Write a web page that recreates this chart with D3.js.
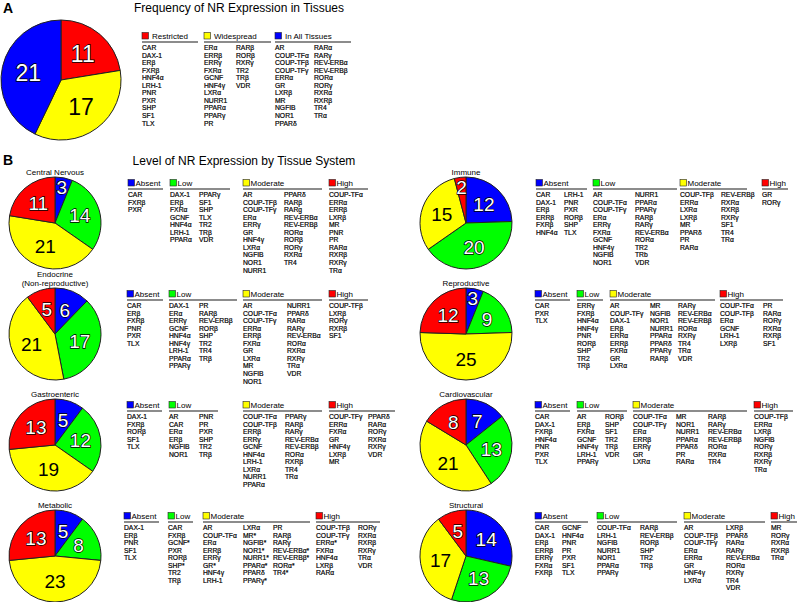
<!DOCTYPE html>
<html>
<head>
<meta charset="utf-8">
<script src="https://cdn.jsdelivr.net/npm/d3@7"></script>
<style>
  body { margin: 0; background: #fff; }
  text { font-family: "Liberation Sans", Arial, Helvetica, sans-serif; }
</style>
</head>
<body>
<svg id="fig" width="800" height="602"></svg>
<script>
// ---- categories ----
const freqCats = ["Restricted", "Widespread", "In All Tissues"];
const levels = ["Absent", "Low", "Moderate", "High"];

// ---- panel A: receptors per frequency class (one inner array per printed column) ----
const restricted = [["CAR", "DAX-1", "ERβ", "FXRβ", "HNF4α", "LRH-1", "PNR", "PXR", "SHP", "SF1", "TLX"]];
const widespread = [
  ["ERα", "ERRβ", "ERRγ", "FXRα", "GCNF", "HNF4γ", "LXRα", "NURR1", "PPARα", "PPARγ", "PR"],
  ["RARβ", "RORβ", "RXRγ", "TR2", "TRβ", "VDR"]
];
const allTissues = [
  ["AR", "COUP-TFα", "COUP-TFβ", "COUP-TFγ", "ERRα", "GR", "LXRβ", "MR", "NGFIB", "NOR1", "PPARδ"],
  ["RARα", "RARγ", "REV-ERBα", "REV-ERBβ", "RORα", "RORγ", "RXRα", "RXRβ", "TR4", "TRα"]
];

// ---- panel B: tissue systems, lists in order Absent, Low, Moderate, High ----
const tissueNames = ["Central Nervous", "Immune", "Endocrine\n(Non-reproductive)", "Reproductive",
                     "Gastroenteric", "Cardiovascular", "Metabolic", "Structural"];

const centralNervous = [
  [["CAR", "FXRβ", "PXR"]],
  [["DAX-1", "ERβ", "FXRα", "GCNF", "HNF4α", "LRH-1", "PPARα"], ["PPARγ", "SF1", "SHP", "TLX", "TR2", "TRβ", "VDR"]],
  [["AR", "COUP-TFβ", "COUP-TFγ", "ERα", "ERRγ", "GR", "HNF4γ", "LXRα", "NGFIB", "NOR1", "NURR1"],
   ["PPARδ", "RARβ", "RARg", "REV-ERBα", "REV-ERBβ", "RORα", "RORβ", "RORγ", "RXRα", "TR4"]],
  [["COUP-TFα", "ERRα", "ERRβ", "LXRβ", "MR", "PNR", "PR", "RARα", "RXRβ", "RXRγ", "TRα"]]
];
const immune = [
  [["CAR", "DAX-1", "ERβ", "ERRβ", "FXRβ", "HNF4α"], ["LRH-1", "PNR", "PXR", "RORβ", "SHP", "TLX"]],
  [["AR", "COUP-TFα", "COUP-TFγ", "ERα", "ERRγ", "FXRα", "GCNF", "HNF4γ", "NGFIB", "NOR1"],
   ["NURR1", "PPARα", "PPARγ", "RARβ", "RARγ", "REV-ERBα", "RORα", "TR2", "TRb", "VDR"]],
  [["COUP-TFβ", "ERRα", "LXRα", "LXRβ", "MR", "PPARδ", "PR", "RARα"],
   ["REV-ERBβ", "RXRα", "RXRβ", "RXRγ", "SF1", "TR4", "TRα"]],
  [["GR", "RORγ"]]
];
const endocrine = [
  [["CAR", "ERβ", "FXRβ", "PNR", "PXR", "TLX"]],
  [["DAX-1", "ERα", "ERRγ", "GCNF", "HNF4α", "HNF4γ", "LRH-1", "PPARα", "PPARγ"],
   ["PR", "RARβ", "REV-ERBβ", "RORβ", "SHP", "TR2", "TR4", "TRβ"]],
  [["AR", "COUP-TFα", "COUP-TFγ", "ERRα", "ERRβ", "FXRα", "GR", "LXRα", "MR", "NGFIB", "NOR1"],
   ["NURR1", "PPARδ", "RARα", "RARγ", "REV-ERBα", "RORα", "RXRα", "RXRγ", "TRα", "VDR"]],
  [["COUP-TFβ", "LXRβ", "RORγ", "RXRβ", "SF1"]]
];
const reproductive = [
  [["CAR", "PXR", "TLX"]],
  [["ERRγ", "FXRβ", "HNF4α", "HNF4γ", "PNR", "RORβ", "SHP", "TR2", "TRβ"]],
  [["AR", "COUP-TFγ", "DAX-1", "ERβ", "ERRα", "ERRβ", "FXRα", "GR", "LXRα"],
   ["MR", "NGFIB", "NOR1", "NURR1", "PPARα", "PPARδ", "PPARγ", "RARβ"],
   ["RARγ", "REV-ERBα", "REV-ERBβ", "RORα", "RXRγ", "TR4", "TRα", "VDR"]],
  [["COUP-TFα", "COUP-TFβ", "ERα", "GCNF", "LRH-1", "LXRβ"], ["PR", "RARα", "RORγ", "RXRα", "RXRβ", "SF1"]]
];
const gastroenteric = [
  [["DAX-1", "FXRβ", "RORβ", "SF1", "TLX"]],
  [["AR", "CAR", "ERα", "ERβ", "NGFIB", "NOR1"], ["PNR", "PR", "PXR", "SHP", "TR2", "TRβ"]],
  [["COUP-TFα", "COUP-TFβ", "ERRβ", "ERRγ", "GCNF", "HNF4α", "LRH-1", "LXRα", "NURR1", "PPARα"],
   ["PPARγ", "RARβ", "RARγ", "REV-ERBα", "REV-ERBβ", "RORα", "RXRβ", "TR4", "TRα"]],
  [["COUP-TFγ", "ERRα", "FXRα", "GR", "HNF4γ", "LXRβ", "MR"], ["PPARδ", "RARα", "RORγ", "RXRα", "RXRγ", "VDR"]]
];
const cardiovascular = [
  [["CAR", "DAX-1", "FXRβ", "HNF4α", "PNR", "PXR", "TLX"]],
  [["AR", "ERβ", "FXRα", "GCNF", "HNF4γ", "LRH-1", "PPARγ"], ["RORβ", "SHP", "SF1", "TR2", "TRβ", "VDR"]],
  [["COUP-TFα", "COUP-TFγ", "ERα", "ERRβ", "ERRγ", "GR", "LXRα"],
   ["MR", "NOR1", "NURR1", "PPARα", "PPARδ", "PR", "RARα"],
   ["RARβ", "RARγ", "REV-ERBα", "REV-ERBβ", "RORα", "RXRα", "TR4"]],
  [["COUP-TFβ", "ERRα", "LXRβ", "NGFIB", "RORγ", "RXRβ", "RXRγ", "TRα"]]
];
const metabolic = [
  [["DAX-1", "ERβ", "PNR", "SF1", "TLX"]],
  [["CAR", "FXRβ", "GCNF*", "PXR", "RORβ", "SHP*", "TR2", "TRβ"]],
  [["AR", "COUP-TFα", "ERα", "ERRβ", "ERRγ", "GR*", "HNF4γ", "LRH-1"],
   ["LXRα", "MR*", "NGFIB*", "NOR1*", "NURR1*", "PPARα*", "PPARδ", "PPARγ*"],
   ["PR", "RARβ", "RARγ", "REV-ERBα*", "REV-ERBβ*", "RORα*", "TR4*"]],
  [["COUP-TFβ", "COUP-TFγ", "ERRα*", "FXRα", "HNF4α", "LXRβ", "RARα"], ["RORγ", "RXRα", "RXRβ", "RXRγ", "TRα", "VDR"]]
];
const structural = [
  [["CAR", "DAX-1", "ERβ", "ERRβ", "ERRγ", "FXRα", "FXRβ"], ["GCNF", "HNF4α", "PNR", "PR", "PXR", "SF1", "TLX"]],
  [["COUP-TFα", "LRH-1", "NGFIB", "NURR1", "NOR1", "PPARα", "PPARγ"], ["RARβ", "REV-ERBβ", "RORβ", "SHP", "TR2", "TRβ"]],
  [["AR", "COUP-TFβ", "COUP-TFγ", "ERα", "ERRα", "GR", "HNF4γ", "LXRα"],
   ["LXRβ", "PPARδ", "RARα", "RARγ", "REV-ERBα", "RORα", "RXRγ", "TR4", "VDR"]],
  [["MR", "RORγ", "RXRα", "RXRβ", "TRα"]]
];

// ---- drawing ----
const svg = d3.select("#fig");
const colorA = d3.scaleOrdinal().domain(freqCats).range(["#ff0000", "#ffff00", "#0000ff"]);
const colorB = d3.scaleOrdinal().domain(levels).range(["#0000ff", "#00ff00", "#ffff00", "#ff0000"]);
const count = cols => d3.sum(cols, c => c.length);

function drawPie(cx, cy, r, cats, lists, color, fontSize) {
  const g = svg.append("g").attr("transform", `translate(${cx},${cy})`);
  const slices = d3.pie().sort(null).value(d => d.n)(cats.map((c, i) => ({ cat: c, n: count(lists[i]) })));
  const arc = d3.arc().innerRadius(0).outerRadius(r);
  g.selectAll("path").data(slices).enter().append("path")
    .attr("d", arc)
    .attr("fill", d => color(d.data.cat))
    .attr("stroke", "#222")
    .attr("stroke-width", 1);
  g.selectAll("text").data(slices).enter().append("text")
    .attr("transform", d => {
      const f = d.data.n <= 3 ? 0.78 : 0.56;
      const c = d3.arc().innerRadius(r * f).outerRadius(r * f).centroid(d);
      return `translate(${c[0]},${c[1]})`;
    })
    .attr("text-anchor", "middle")
    .attr("dominant-baseline", "central")
    .attr("font-size", fontSize)
    .attr("fill", d => color(d.data.cat) === "#ffff00" ? "#000" : "#fff")
    .attr("stroke", d => color(d.data.cat) === "#ffff00" ? "none" : "#000")
    .attr("stroke-width", 1.4)
    .attr("paint-order", "stroke")
    .text(d => d.data.n);
}

function drawLists(cats, lists, color, groupX, colX, ends, headY, step, textGap) {
  cats.forEach((cat, i) => {
    const x = groupX[i];
    svg.append("rect")
      .attr("x", x).attr("y", headY - 6.5).attr("width", 6.5).attr("height", 6.5)
      .attr("fill", color(cat)).attr("stroke", "#222").attr("stroke-width", 0.6);
    svg.append("text")
      .attr("x", x + textGap).attr("y", headY)
      .attr("font-size", 8)
      .text(cat);
    svg.append("line")
      .attr("x1", x).attr("x2", ends[i])
      .attr("y1", headY + 3).attr("y2", headY + 3)
      .attr("stroke", "#666").attr("stroke-width", 1.5);
    lists[i].forEach((col, j) => {
      svg.append("g").selectAll("text").data(col).enter().append("text")
        .attr("x", x + colX[i][j])
        .attr("y", (d, k) => headY + 11 + k * step)
        .attr("font-size", 6.75)
        .attr("stroke", "#000")
        .attr("stroke-width", 0.2)
        .text(d => d);
    });
  });
}

// panel A
svg.append("text").attr("x", 3).attr("y", 13).attr("font-size", 14).attr("font-weight", "bold").text("A");
svg.append("text").attr("x", 239).attr("y", 12).attr("text-anchor", "middle").attr("font-size", 12)
  .text("Frequency of NR Expression in Tissues");
drawPie(61, 80, 60, freqCats, [restricted, widespread, allTissues], colorA, 23);
drawLists(freqCats, [restricted, widespread, allTissues], colorA,
  [142, 204, 275], [[0], [0, 32], [0, 39]], [198, 271, 351], 39, 7.55, 10);

// panel B
svg.append("text").attr("x", 3).attr("y", 165).attr("font-size", 14).attr("font-weight", "bold").text("B");
svg.append("text").attr("x", 244).attr("y", 165).attr("text-anchor", "middle").attr("font-size", 12)
  .text("Level of NR Expression by Tissue System");

const panels = [
  { lists: centralNervous, cx: 55, cy: 223, gx: [128, 170, 243, 329], cols: [[0], [0, 29], [0, 41], [0]], ends: [163, 230, 322, 368] },
  { lists: immune, cx: 466, cy: 223, gx: [536, 593, 680, 762], cols: [[0, 28], [0, 42], [0, 41], [0]], ends: [587, 677, 747, 788] },
  { lists: endocrine, cx: 55, cy: 334, gx: [127, 169, 243, 329], cols: [[0], [0, 30], [0, 44], [0]], ends: [163, 237, 322, 368] },
  { lists: reproductive, cx: 466, cy: 334, gx: [535, 577, 610, 720], cols: [[0], [0], [0, 40, 68], [0, 43]], ends: [570, 603, 715, 783] },
  { lists: gastroenteric, cx: 55, cy: 445, gx: [127, 169, 243, 329], cols: [[0], [0, 30], [0, 42], [0, 39]], ends: [162, 218, 322, 395] },
  { lists: cardiovascular, cx: 466, cy: 445, gx: [535, 577, 633, 754], cols: [[0], [0, 28], [0, 43, 75], [0]], ends: [570, 627, 747, 793] },
  { lists: metabolic, cx: 55, cy: 556, gx: [124, 168, 203, 316], cols: [[0], [0], [0, 40, 70], [0, 42]], ends: [159, 193, 310, 380] },
  { lists: structural, cx: 466, cy: 556, gx: [535, 597, 684, 771], cols: [[0, 27], [0, 43], [0, 42], [0]], ends: [588, 677, 765, 797] }
];

panels.forEach((p, i) => {
  const lines = tissueNames[i].split("\n");
  lines.forEach((t, k) => {
    svg.append("text")
      .attr("x", p.cx)
      .attr("y", p.cy - 48 - (lines.length - 1 - k) * 9.2)
      .attr("text-anchor", "middle")
      .attr("font-size", 8)
      .text(t);
  });
  drawPie(p.cx, p.cy, 46, levels, p.lists, colorB, 19);
  drawLists(levels, p.lists, colorB, p.gx, p.cols, p.ends, p.cy - 37, 7.55, 7.5);
});
</script>
</body>
</html>
